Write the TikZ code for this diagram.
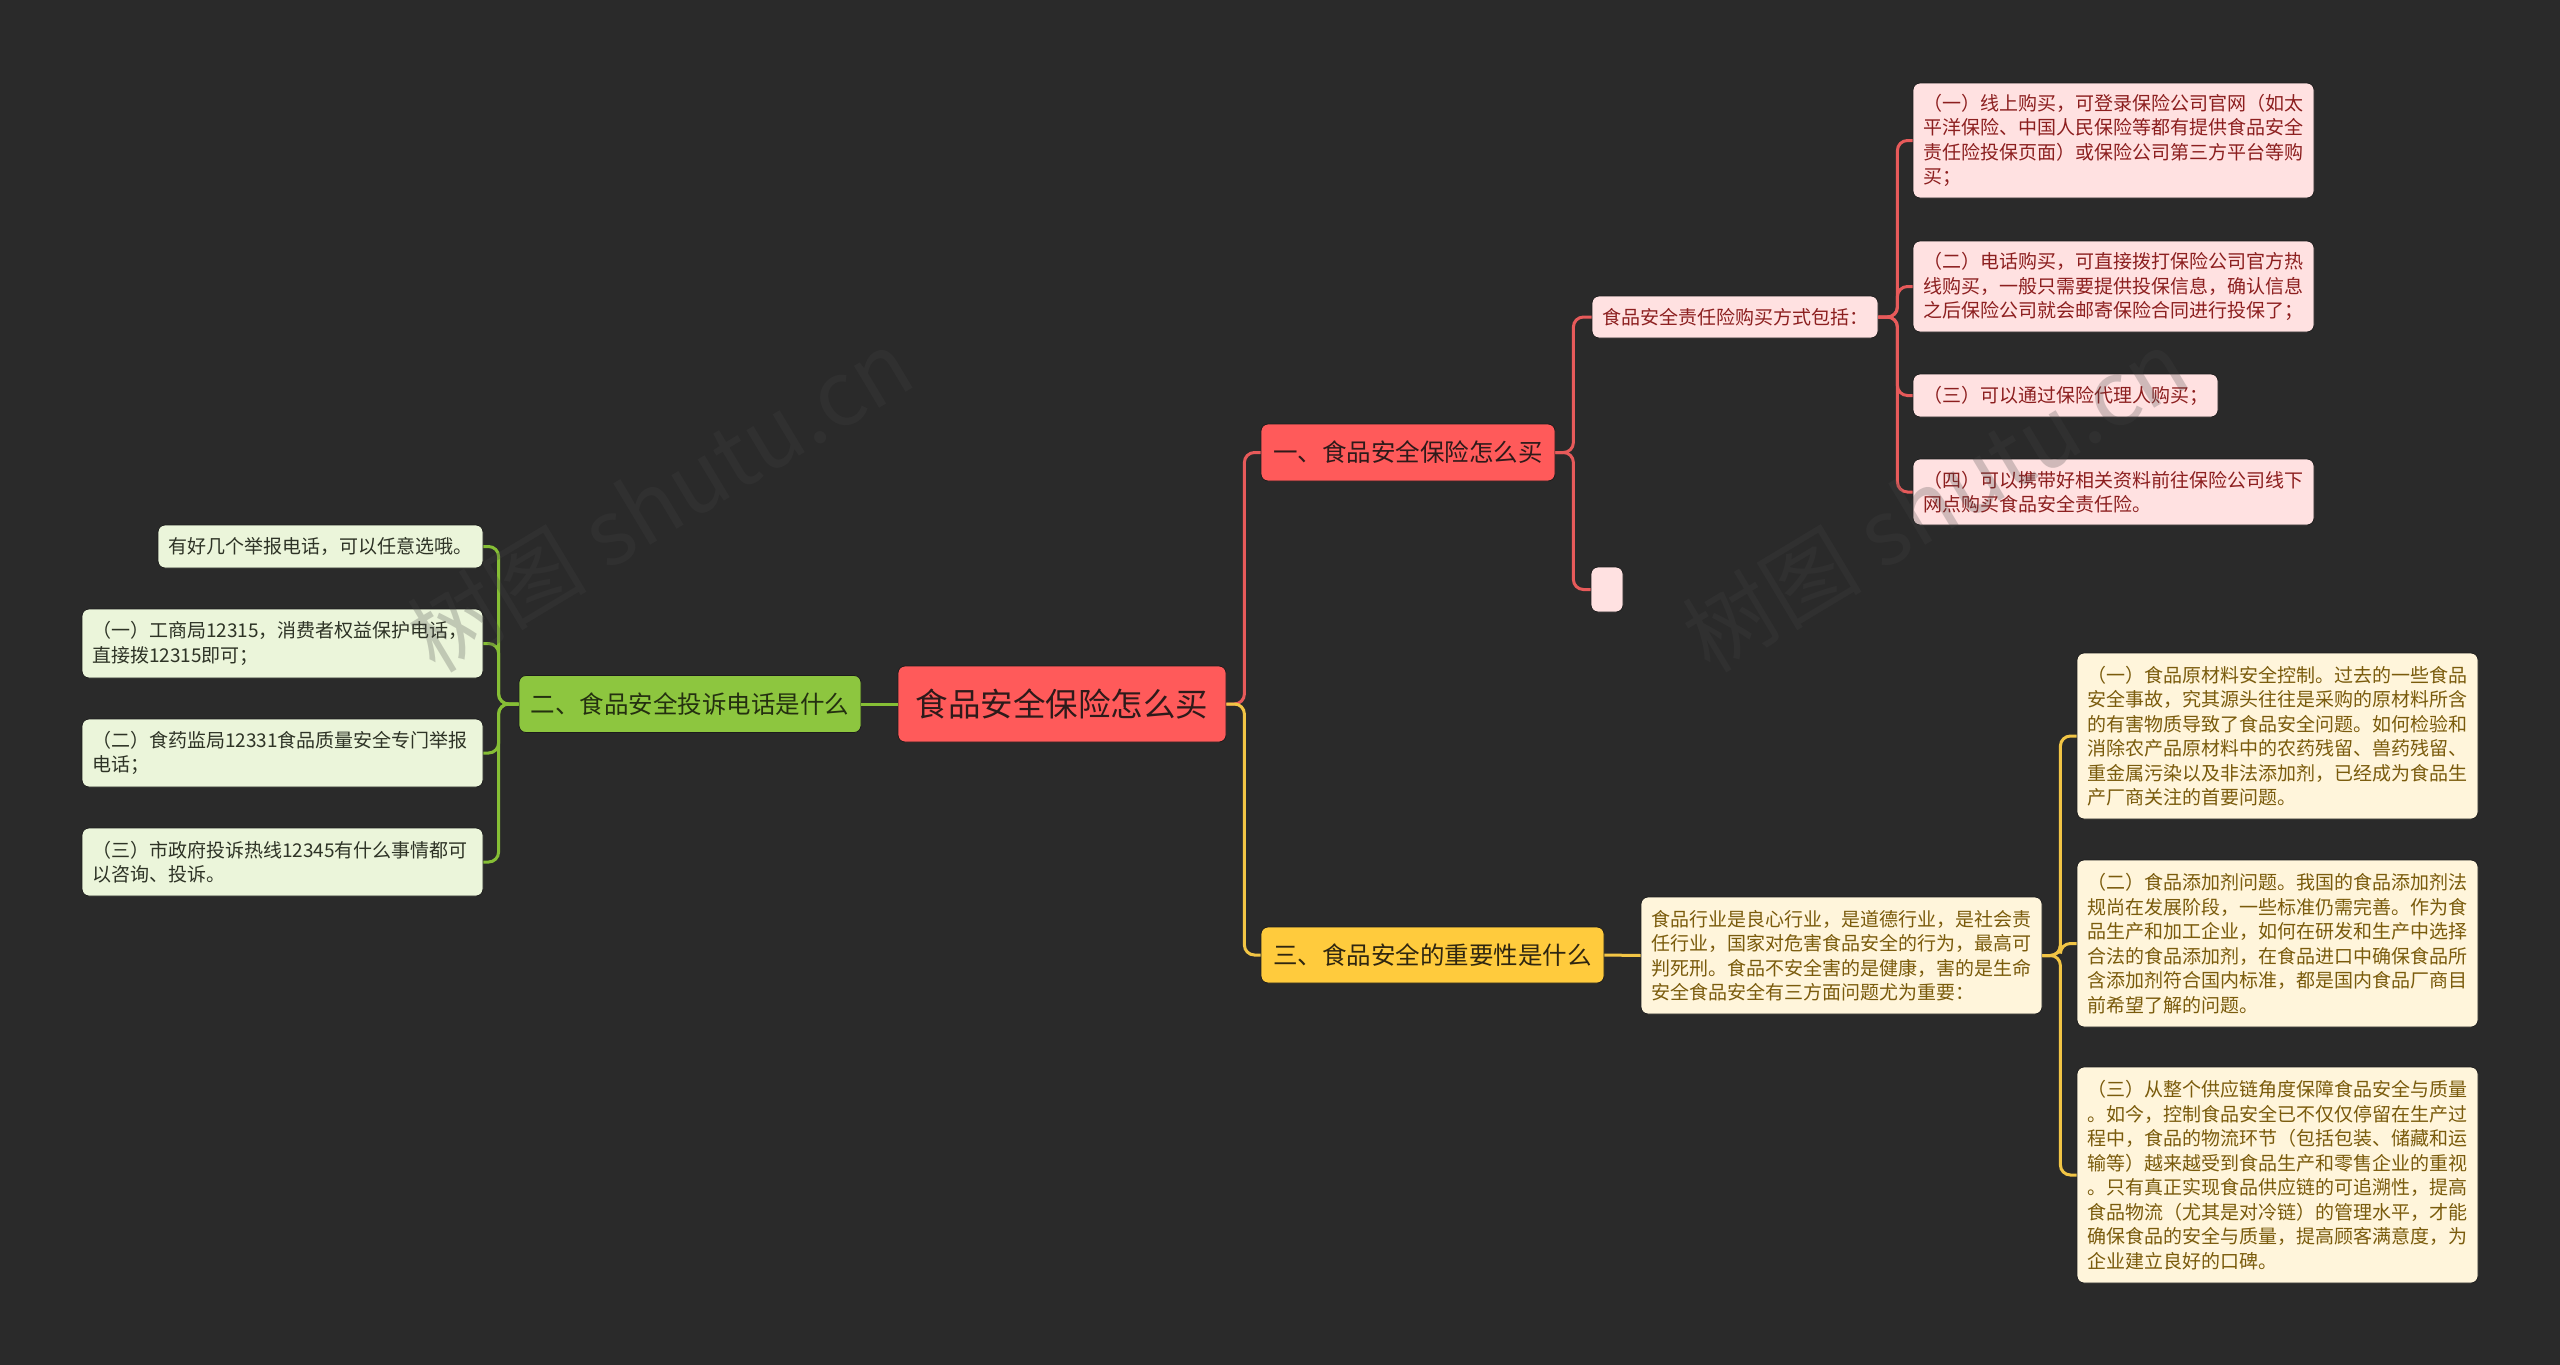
\documentclass[tikz,border=0pt]{standalone}
\usepackage{fontspec}
\setmainfont{Noto Sans CJK SC}
\usetikzlibrary{calc}
\definecolor{bgc}{HTML}{2A2A2A}
\definecolor{redfill}{HTML}{FF5A5A}
\definecolor{redtext}{HTML}{2E1A1A}
\definecolor{pinkfill}{HTML}{FFE1E1}
\definecolor{pinktext}{HTML}{8C1F1F}
\definecolor{redline}{HTML}{E75A5A}
\definecolor{greenfill}{HTML}{8DC63F}
\definecolor{greentext}{HTML}{243010}
\definecolor{lgreenfill}{HTML}{EBF5DA}
\definecolor{lgreentext}{HTML}{2E3326}
\definecolor{greenline}{HTML}{86BF35}
\definecolor{yelfill}{HTML}{FFCB3D}
\definecolor{yeltext}{HTML}{2F2610}
\definecolor{lyelfill}{HTML}{FFF5DB}
\definecolor{lyeltext}{HTML}{7A5B0C}
\definecolor{yelline}{HTML}{F2C545}
\definecolor{edgec}{HTML}{1C1C1C}
\definecolor{wmc}{HTML}{434343}
\begin{document}
\begin{tikzpicture}[x=1pt,y=-1pt,
  basebox/.style={rectangle, rounded corners=7pt, inner ysep=0pt, draw=edgec, line width=0.8pt},
  centerbox/.style={basebox, fill=redfill, text=redtext, inner xsep=0pt, font=\fontsize{32.5}{40}\selectfont},
  mainbox/.style={basebox, inner xsep=0pt, font=\fontsize{24.5}{30}\selectfont},
  leafbox/.style={basebox, align=left, inner xsep=10pt, font=\fontsize{19}{24.5}\selectfont},
  pinkleaf/.style={leafbox, fill=pinkfill, text=pinktext},
  greenleaf/.style={leafbox, fill=lgreenfill, text=lgreentext},
  yelleaf/.style={leafbox, fill=lyelfill, text=lyeltext},
  conn/.style={line width=3pt, rounded corners=10pt},
  wm/.style={text=wmc, text opacity=0.25, font=\fontsize{90}{100}\selectfont, inner sep=0pt}
]
\fill[bgc] (0,0) rectangle (2560,1365);
\useasboundingbox (0,0) rectangle (2560,1365);

% nodes
\node[centerbox, minimum width=328pt, minimum height=76pt] (c) at (1062,704) {食品安全保险怎么买};
\node[mainbox, fill=redfill, text=redtext, minimum width=294pt, minimum height=57pt] (b1) at (1408,452.5) {一、食品安全保险怎么买};
\node[mainbox, fill=greenfill, text=greentext, minimum width=342pt, minimum height=57pt] (b2) at (690,704) {二、食品安全投诉电话是什么};
\node[mainbox, fill=yelfill, text=yeltext, minimum width=343pt, minimum height=56pt] (b3) at (1432.5,955) {三、食品安全的重要性是什么};

\node[pinkleaf, text width=266pt, minimum height=42pt] (p0) at (1735,317) {食品安全责任险购买方式包括：};
\node[basebox, fill=pinkfill, inner xsep=0pt, minimum width=32pt, minimum height=45pt] (pe) at (1607,589.5) {};
\node[pinkleaf, text width=381pt, minimum height=115pt] (p1) at (2113.5,140.5) {（一）线上购买，可登录保险公司官网（如太\\平洋保险、中国人民保险等都有提供食品安全\\责任险投保页面）或保险公司第三方平台等购\\买；};
\node[pinkleaf, text width=381pt, minimum height=91pt] (p2) at (2113.5,286.5) {（二）电话购买，可直接拨打保险公司官方热\\线购买，一般只需要提供投保信息，确认信息\\之后保险公司就会邮寄保险合同进行投保了；};
\node[pinkleaf, text width=285pt, minimum height=43pt] (p3) at (2065.5,395.5) {（三）可以通过保险代理人购买；};
\node[pinkleaf, text width=381pt, minimum height=66pt] (p4) at (2113.5,492) {（四）可以携带好相关资料前往保险公司线下\\网点购买食品安全责任险。};

\node[greenleaf, text width=305pt, minimum height=43pt] (g0) at (320.5,546.5) {有好几个举报电话，可以任意选哦。};
\node[greenleaf, text width=381pt, minimum height=69pt] (g1) at (282.5,643.5) {（一）工商局12315，消费者权益保护电话，\\直接拨12315即可；};
\node[greenleaf, text width=381pt, minimum height=68pt] (g2) at (282.5,753) {（二）食药监局12331食品质量安全专门举报\\电话；};
\node[greenleaf, text width=381pt, minimum height=68pt] (g3) at (282.5,862) {（三）市政府投诉热线12345有什么事情都可\\以咨询、投诉。};

\node[yelleaf, text width=381pt, minimum height=117pt, inner xsep=10pt] (y0) at (1841.5,955.5) {食品行业是良心行业，是道德行业，是社会责\\任行业，国家对危害食品安全的行为，最高可\\判死刑。食品不安全害的是健康，害的是生命\\安全食品安全有三方面问题尤为重要：};
\node[yelleaf, text width=381pt, minimum height=166pt] (y1) at (2277.5,736) {（一）食品原材料安全控制。过去的一些食品\\安全事故，究其源头往往是采购的原材料所含\\的有害物质导致了食品安全问题。如何检验和\\消除农产品原材料中的农药残留、兽药残留、\\重金属污染以及非法添加剂，已经成为食品生\\产厂商关注的首要问题。};
\node[yelleaf, text width=381pt, minimum height=167pt] (y2) at (2277.5,943.5) {（二）食品添加剂问题。我国的食品添加剂法\\规尚在发展阶段，一些标准仍需完善。作为食\\品生产和加工企业，如何在研发和生产中选择\\合法的食品添加剂，在食品进口中确保食品所\\含添加剂符合国内标准，都是国内食品厂商目\\前希望了解的问题。};
\node[yelleaf, text width=381pt, minimum height=216pt] (y3) at (2277.5,1175) {（三）从整个供应链角度保障食品安全与质量\\。如今，控制食品安全已不仅仅停留在生产过\\程中，食品的物流环节（包括包装、储藏和运\\输等）越来越受到食品生产和零售企业的重视\\。只有真正实现食品供应链的可追溯性，提高\\食品物流（尤其是对冷链）的管理水平，才能\\确保食品的安全与质量，提高顾客满意度，为\\企业建立良好的口碑。};

% connectors
\draw[conn, redline] (c.east) -- ++(18,0) |- (b1.west);
\draw[conn, yelline] (c.east) -- ++(18,0) |- (b3.west);
\draw[conn, greenline] (c.west) -- (b2.east);

\draw[conn, redline] (b1.east) -- ++(18,0) |- (p0.west);
\draw[conn, redline] (b1.east) -- ++(18,0) |- (pe.west);
\foreach \t in {p1,p2,p3,p4}
  \draw[conn, redline] (p0.east) -- ++(19,0) |- (\t.west);

\foreach \t in {g0,g1,g2,g3}
  \draw[conn, greenline] (b2.west) -- ++(-20,0) |- (\t.east);

\draw[conn, yelline] (b3.east) -- (y0.west);
\foreach \t in {y1,y2,y3}
  \draw[conn, yelline] (y0.east) -- ++(18,0) |- (\t.west);

% watermarks
\node[wm, rotate=31] (wm1) at (660,500) {树图 shutu.cn};
\node[wm, rotate=31] (wm2) at (1935,500) {树图 shutu.cn};
\end{tikzpicture}
\end{document}
